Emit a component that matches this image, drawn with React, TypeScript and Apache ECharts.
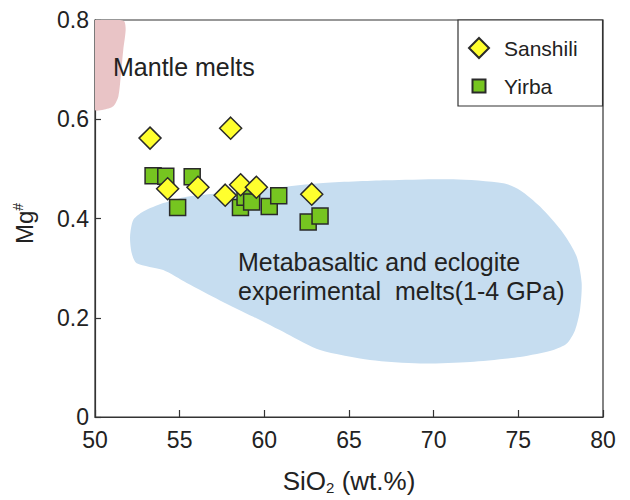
import React, { useEffect, useRef } from "react";
import * as echarts from "echarts";

// Sample compositions: SiO2 (wt.%) and Mg#
const sanshiliSiO2 = [53.25, 58.01, 54.29, 56.08, 57.69, 58.6, 59.53, 62.8];
const sanshiliMg = [0.562, 0.582, 0.46, 0.463, 0.447, 0.468, 0.463, 0.449];

const yirbaSiO2 = [53.43, 54.18, 55.74, 54.88, 58.59, 58.86, 59.25, 60.29, 60.85, 62.59, 63.29];
const yirbaMg = [0.486, 0.485, 0.484, 0.422, 0.422, 0.443, 0.433, 0.424, 0.446, 0.393, 0.405];

// Outline of the field of metabasaltic / eclogite experimental melts (SiO2, Mg#)
const experimentalField: [number, number][] = [
  [52.07, 0.363], [52.26, 0.397], [52.85, 0.414], [54.03, 0.431], [55.42, 0.444],
  [59.35, 0.457], [63.29, 0.471], [67.23, 0.477], [71.16, 0.479], [74.11, 0.471],
  [75.1, 0.457], [76.28, 0.424], [77.66, 0.37], [78.45, 0.323], [78.74, 0.27],
  [78.64, 0.215], [78.35, 0.175], [77.86, 0.148], [77.07, 0.135], [75.1, 0.121],
  [72.15, 0.111], [69.19, 0.108], [66.24, 0.115], [63.29, 0.135], [61.32, 0.168],
  [59.35, 0.202], [57.38, 0.235], [55.42, 0.27], [54.03, 0.296], [52.46, 0.31],
  [52.17, 0.33],
];

// Outline of the mantle melts field (SiO2, Mg#)
const mantleField: [number, number][] = [
  [50, 0.8], [51.48, 0.8], [51.74, 0.797], [51.81, 0.78], [51.67, 0.74],
  [51.52, 0.686], [51.38, 0.646], [51.08, 0.626], [50.49, 0.619], [50, 0.619],
];

const xTicks = [50, 55, 60, 65, 70, 75, 80];
const yTicks = [0, 0.2, 0.4, 0.6, 0.8];

const FONT = "'Liberation Sans', Arial, sans-serif";
const INK = "#222";

function fieldSeries(name: string, outline: [number, number][], fill: string) {
  return {
    type: "custom",
    name,
    silent: true,
    z: 1,
    clip: true,
    data: [[outline[0][0], outline[0][1]]],
    renderItem: (_params: any, api: any) => ({
      type: "polygon",
      shape: {
        points: outline.map((p) => api.coord(p)),
        smooth: 0.25,
      },
      style: { fill, stroke: "none" },
    }),
  };
}

export default function App() {
  const ref = useRef<HTMLDivElement>(null);

  useEffect(() => {
    if (!ref.current) return;
    const chart = echarts.init(ref.current, undefined, { renderer: "svg" });

    chart.setOption({
      animation: false,
      backgroundColor: "#fff",
      grid: {
        left: 95,
        right: 27,
        top: 20,
        bottom: 83,
        show: true,
        borderColor: "#333",
        borderWidth: 1.2,
        backgroundColor: "transparent",
      },
      legend: {
        orient: "vertical",
        left: 458,
        top: 20,
        data: [
          { name: "Sanshili", icon: "diamond" },
          { name: "Yirba", icon: "path://M0,0M20,20M3.5,3.5h13v13h-13z" },
        ],
        itemWidth: 20,
        itemHeight: 20,
        itemGap: 16,
        padding: [17, 25, 9, 10],
        borderColor: "#333",
        borderWidth: 1.2,
        backgroundColor: "#fff",
        textStyle: {
          fontFamily: FONT,
          fontSize: 21,
          color: INK,
          padding: [0, 0, 0, 10],
        },
      },
      xAxis: {
        type: "value",
        min: xTicks[0],
        max: xTicks[xTicks.length - 1],
        interval: 5,
        name: "{a|SiO}{s|2}{a| (wt.%)}",
        nameLocation: "middle",
        nameGap: 50,
        nameTextStyle: {
          rich: {
            a: { fontFamily: FONT, fontSize: 26, color: INK, lineHeight: 28 },
            s: { fontFamily: FONT, fontSize: 15, color: INK, verticalAlign: "bottom", lineHeight: 15 },
          },
        },
        splitLine: { show: false },
        axisLine: { lineStyle: { color: "#333", width: 1.2 } },
        axisTick: { inside: true, length: 7, lineStyle: { color: "#333", width: 1.2 } },
        axisLabel: {
          margin: 11,
          fontFamily: FONT,
          fontSize: 23,
          color: INK,
          showMinLabel: true,
          showMaxLabel: true,
        },
      },
      yAxis: {
        type: "value",
        min: yTicks[0],
        max: yTicks[yTicks.length - 1],
        interval: 0.2,
        name: "{m|Mg}{s|#}",
        nameLocation: "middle",
        nameRotate: 90,
        nameGap: 57,
        nameTextStyle: {
          padding: [0, 10, 0, 0],
          rich: {
            m: { fontFamily: FONT, fontSize: 24, color: INK, lineHeight: 27 },
            s: { fontFamily: FONT, fontSize: 14, color: INK, verticalAlign: "top", lineHeight: 14 },
          },
        },
        splitLine: { show: false },
        axisLine: { lineStyle: { color: "#333", width: 1.2 } },
        axisTick: { inside: true, length: 6, lineStyle: { color: "#333", width: 1.2 } },
        axisLabel: {
          margin: 6,
          fontFamily: FONT,
          fontSize: 23,
          color: INK,
          formatter: (v: number) => (v === 0 ? "0" : v.toFixed(1)),
        },
      },
      graphic: [
        {
          type: "text",
          left: 113,
          top: 54,
          z: 50,
          style: { text: "Mantle melts", font: `25px ${FONT}`, fill: INK },
        },
        {
          type: "text",
          left: 238,
          top: 247,
          z: 50,
          style: {
            text: "Metabasaltic and eclogite\nexperimental  melts(1-4 GPa)",
            font: `25px ${FONT}`,
            fill: INK,
            lineHeight: 29,
          },
        },
      ],
      series: [
        fieldSeries("Mantle melts", mantleField, "#E9C4C6"),
        fieldSeries("Experimental melts", experimentalField, "#C6DDF0"),
        {
          type: "scatter",
          name: "Yirba",
          z: 3,
          symbol: "rect",
          symbolSize: 16,
          itemStyle: { color: "#76C520", borderColor: "#2a2a2a", borderWidth: 1.5, opacity: 1 },
          data: yirbaSiO2.map((x, i) => [x, yirbaMg[i]]),
        },
        {
          type: "scatter",
          name: "Sanshili",
          z: 4,
          symbol: "diamond",
          symbolSize: 22,
          itemStyle: { color: "#FFFF2E", borderColor: "#2a2a2a", borderWidth: 1.5, opacity: 1 },
          data: sanshiliSiO2.map((x, i) => [x, sanshiliMg[i]]),
        },
      ],
    });

    return () => chart.dispose();
  }, []);

  return (
    <div
      ref={ref}
      style={{ position: "absolute", left: 0, top: 0, width: 630, height: 500 }}
    />
  );
}
